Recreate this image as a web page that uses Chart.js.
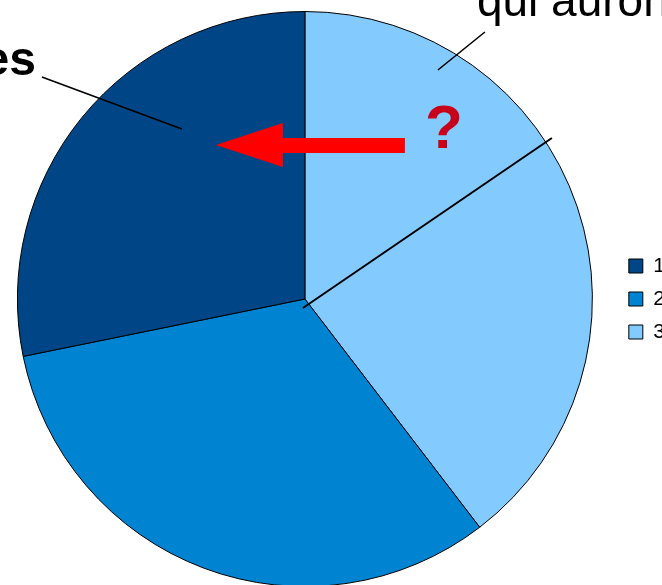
<!DOCTYPE html>
<html>
<head>
<meta charset="utf-8">
<script src="https://cdn.jsdelivr.net/npm/chart.js@4.4.1/dist/chart.umd.min.js"></script>
<style>
  html, body { margin: 0; padding: 0; background: #fff; overflow: hidden; }
  #wrap { position: absolute; left: -7px; top: 0; width: 682px; height: 598px; }
</style>
</head>
<body>
<div id="wrap"><canvas id="pieChart"></canvas></div>
<script>
// Series (share of the circle, %)
const categories = ['1', '2', '3'];
const shares = [28.2, 32.2, 39.6];
const sliceColors = ['#004586', '#0084d1', '#83caff'];

// LibreOffice draws counter-clockwise from 12 o'clock, Chart.js clockwise,
// so feed the slices in reverse and flip the legend back.
const rev = arr => arr.slice().reverse();

// annotations drawn over the pie (offsets from the pie centre, px)
const notes = {
  font: '"Liberation Sans", Arial, sans-serif',
  topText: 'qui auront',
  leftText: 'es'
};

const overlay = {
  id: 'overlay',
  afterDatasetsDraw(chart) {
    const arc = chart.getDatasetMeta(0).data[0];
    if (!arc) return;
    const cx = arc.x, cy = arc.y;
    const ctx = chart.ctx;
    ctx.save();
    ctx.strokeStyle = '#000';
    ctx.lineCap = 'butt';

    // long line from centre out through the light slice
    ctx.lineWidth = 2;
    ctx.beginPath();
    ctx.moveTo(cx - 2, cy + 9);
    ctx.lineTo(cx + 247, cy - 161);
    ctx.stroke();

    // leader lines
    ctx.lineWidth = 1.6;
    ctx.beginPath();
    ctx.moveTo(cx + 133, cy - 229);
    ctx.lineTo(cx + 180, cy - 267);
    ctx.moveTo(cx - 263, cy - 222);
    ctx.lineTo(cx - 123, cy - 170);
    ctx.stroke();

    // red arrow pointing left
    ctx.fillStyle = '#ff0000';
    ctx.beginPath();
    ctx.moveTo(cx - 89, cy - 154);
    ctx.lineTo(cx - 22, cy - 176);
    ctx.lineTo(cx - 22, cy - 161);
    ctx.lineTo(cx + 100, cy - 161);
    ctx.lineTo(cx + 100, cy - 146);
    ctx.lineTo(cx - 22, cy - 146);
    ctx.lineTo(cx - 22, cy - 132);
    ctx.closePath();
    ctx.fill();

    // question mark
    ctx.fillStyle = '#c9001a';
    ctx.font = 'bold 62px ' + notes.font;
    ctx.textAlign = 'center';
    ctx.textBaseline = 'alphabetic';
    ctx.fillText('?', cx + 139, cy - 151);

    // cut-off labels
    ctx.fillStyle = '#000';
    ctx.font = '46px ' + notes.font;
    ctx.textAlign = 'left';
    ctx.fillText(notes.topText, cx + 172, cy - 283);
    ctx.font = 'bold 48px ' + notes.font;
    ctx.textAlign = 'right';
    ctx.fillText(notes.leftText, cx - 269, cy - 224);
    ctx.restore();
  }
};

new Chart(document.getElementById('pieChart'), {
  type: 'pie',
  data: {
    labels: rev(categories),
    datasets: [{
      data: rev(shares),
      backgroundColor: rev(sliceColors),
      borderColor: '#000',
      borderWidth: 1,
      hoverOffset: 0
    }]
  },
  options: {
    responsive: true,
    maintainAspectRatio: false,
    animation: false,
    events: [],
    layout: { padding: { top: 11, bottom: 11, left: 0, right: 0 } },
    plugins: {
      tooltip: { enabled: false },
      legend: {
        position: 'right',
        reverse: true,
        labels: {
          boxWidth: 14,
          boxHeight: 14,
          padding: 12,
          color: '#000',
          font: { family: '"Liberation Sans", Arial, sans-serif', size: 21 }
        }
      }
    }
  },
  plugins: [overlay]
});
</script>
</body>
</html>
